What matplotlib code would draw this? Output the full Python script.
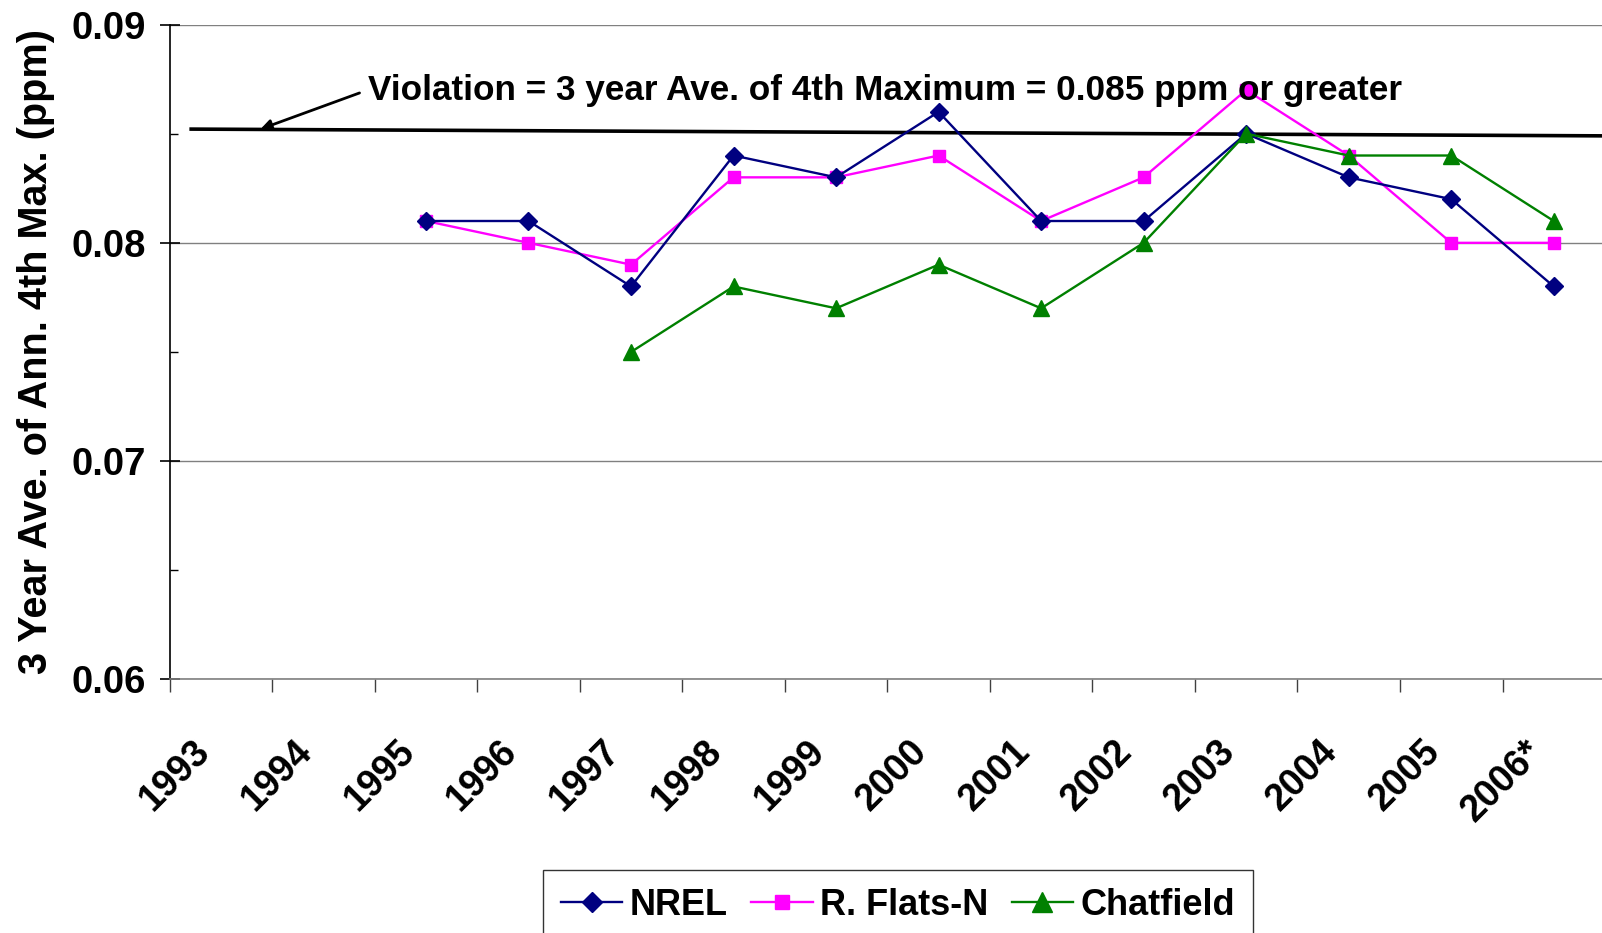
import matplotlib
matplotlib.use("Agg")
import matplotlib.pyplot as plt
from matplotlib.ticker import FixedLocator, NullFormatter
import numpy as np

plt.rcParams['font.family'] = ['Liberation Sans', 'DejaVu Sans']
plt.rcParams['font.weight'] = 'bold'

# data
years = ["1993", "1994", "1995", "1996", "1997", "1998", "1999",
         "2000", "2001", "2002", "2003", "2004", "2005", "2006*"]
nan = np.nan
nrel = [nan, nan, 0.081, 0.081, 0.078, 0.084, 0.083,
        0.086, 0.081, 0.081, 0.085, 0.083, 0.082, 0.078]
rflats = [nan, nan, 0.081, 0.080, 0.079, 0.083, 0.083,
          0.084, 0.081, 0.083, 0.087, 0.084, 0.080, 0.080]
chatfield = [nan, nan, nan, nan, 0.075, 0.078, 0.077,
             0.079, 0.077, 0.080, 0.085, 0.084, 0.084, 0.081]
yticks = [0.06, 0.07, 0.08, 0.09]
yticklabels = ["0.06", "0.07", "0.08", "0.09"]

# hand-drawn standard line (slightly tilted in the original)
viol_x = [0.21, 14.0]
viol_y = [0.08521, 0.08490]
viol_text = "Violation = 3 year Ave. of 4th Maximum = 0.085 ppm or greater"

fig = plt.figure(figsize=(16.02, 9.33), dpi=100)
ax = fig.add_axes([0.1059, 0.2718, 0.896, 0.7019])

x = np.arange(len(years)) + 0.5

ax.plot(viol_x, viol_y, color='black', lw=2.6, zorder=2)

ax.plot(x, nrel, color='#000080', lw=1.7, marker='D', ms=9,
        mec='#000080', mfc='#000080', label='NREL', zorder=4)
ax.plot(x, rflats, color='#FF00FF', lw=1.7, marker='s', ms=9,
        mec='#FF00FF', mfc='#FF00FF', label='R. Flats-N', zorder=3)
ax.plot(x, chatfield, color='#008000', lw=1.7, marker='^', ms=12,
        mec='#008000', mfc='#008000', label='Chatfield', zorder=5)

ax.annotate(viol_text, xy=(0.886, 0.08521), xytext=(1.93, 0.0870),
            ha='left', va='center', fontsize=25.3, fontweight='bold',
            arrowprops=dict(arrowstyle='-|>', color='black', lw=2.0,
                            mutation_scale=16, shrinkA=4, shrinkB=0,
                            relpos=(0.0, 0.5)))

ax.set_xlim(0, len(years))
ax.set_ylim(0.06, 0.09)

# y axis
ax.yaxis.set_major_locator(FixedLocator(yticks))
ax.yaxis.set_minor_locator(FixedLocator([0.065, 0.075, 0.085]))
ax.set_yticklabels(yticklabels)
ax.tick_params(axis='y', which='major', direction='inout', length=14,
               width=1.2, color='black', labelsize=27.5, pad=10)
ax.tick_params(axis='y', which='minor', direction='in', length=6,
               width=1.0, color='black')
ax.yaxis.grid(True, which='major', color='#808080', lw=1.0)
ax.set_axisbelow(True)

# x axis: ticks on category edges, labels near centres
ax.xaxis.set_major_locator(FixedLocator(np.arange(len(years) + 1)))
ax.xaxis.set_major_formatter(NullFormatter())
ax.xaxis.set_minor_locator(FixedLocator(x - 0.04))
ax.set_xticklabels(years, minor=True, rotation=45, ha='right', va='top',
                   fontsize=27, fontweight='bold')
ax.tick_params(axis='x', which='major', direction='out', length=9,
               width=1.0, color='#404040')
ax.tick_params(axis='x', which='minor', length=0, pad=39)

ax.set_ylabel("3 Year Ave. of Ann. 4th Max. (ppm)", fontsize=28.5,
              fontweight='bold')
ax.yaxis.set_label_coords(-0.08, 0.5)

for s in ['top', 'right']:
    ax.spines[s].set_visible(False)
ax.spines['left'].set_color('black')
ax.spines['left'].set_linewidth(1.2)
ax.spines['bottom'].set_color('#808080')
ax.spines['bottom'].set_linewidth(1.2)

leg = fig.legend(loc='upper center', bbox_to_anchor=(0.5605, 0.0675),
                 ncol=3, fontsize=26, frameon=True, fancybox=False,
                 edgecolor='black', handlelength=1.7, handletextpad=0.2,
                 columnspacing=0.65, borderpad=0.5, borderaxespad=0,
                 markerscale=1.15)
leg.get_frame().set_linewidth(1.0)

fig.savefig("out.png", dpi=100)
